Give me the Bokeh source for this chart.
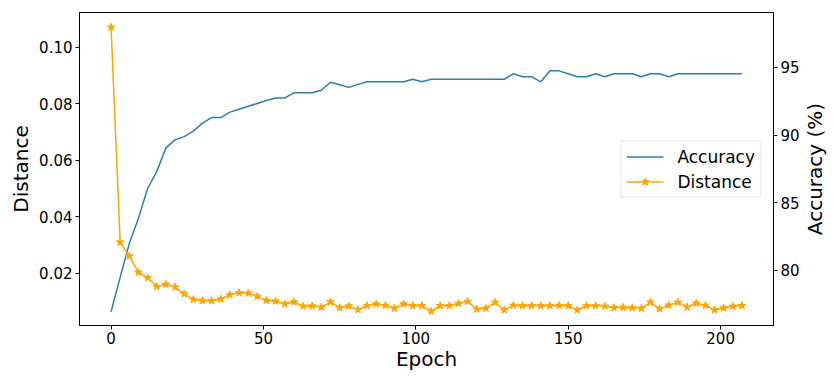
import math
from bokeh.plotting import figure
from bokeh.layouts import row
from bokeh.models import Range1d, LinearAxis, FixedTicker, Legend, LegendItem, NumeralTickFormatter
from bokeh.embed import file_html
from bokeh.resources import INLINE

epochs = list(range(0, 208, 3))

accuracy = [
    76.95, 79.5, 82.0, 83.86, 86.05, 87.3, 89.05, 89.64, 89.88, 90.29,
    90.88, 91.29, 91.29, 91.69, 91.9, 92.12, 92.33, 92.55, 92.74, 92.74,
    93.12, 93.12, 93.12, 93.31, 93.9, 93.71, 93.52, 93.74, 93.93, 93.93,
    93.93, 93.93, 93.93, 94.12, 93.93, 94.12, 94.12, 94.12, 94.12, 94.12,
    94.12, 94.12, 94.12, 94.12, 94.52, 94.31, 94.31, 93.93, 94.74, 94.74,
    94.52, 94.31, 94.31, 94.52, 94.31, 94.52, 94.52, 94.52, 94.31, 94.52,
    94.52, 94.31, 94.52, 94.52, 94.52, 94.52, 94.52, 94.52, 94.52, 94.52,
]

distance = [
    0.1072, 0.0310, 0.0261, 0.0203, 0.0184, 0.0153, 0.0161, 0.0151, 0.0127, 0.0107,
    0.0103, 0.0102, 0.0108, 0.0124, 0.0131, 0.0129, 0.0118, 0.0104, 0.0101, 0.0091,
    0.0098, 0.0083, 0.0084, 0.0080, 0.0098, 0.0078, 0.0084, 0.0071, 0.0085, 0.0091,
    0.0086, 0.0076, 0.0091, 0.0085, 0.0085, 0.0065, 0.0085, 0.0085, 0.0093, 0.0100,
    0.0073, 0.0076, 0.0097, 0.0070, 0.0086, 0.0085, 0.0085, 0.0085, 0.0085, 0.0086,
    0.0085, 0.0070, 0.0085, 0.0085, 0.0083, 0.0078, 0.0079, 0.0078, 0.0076, 0.0097,
    0.0074, 0.0087, 0.0097, 0.0080, 0.0094, 0.0086, 0.0070, 0.0077, 0.0083, 0.0085,
]

x_ticks = [0, 50, 100, 150, 200]
dist_ticks = [0.02, 0.04, 0.06, 0.08, 0.10]
acc_ticks = [80, 85, 90, 95]

FONT = "DejaVu Sans"
BLUE = "#2e7fa8"
ORANGE = "#ffa500"

X_LO, X_HI = -10.35, 217.35
ACC_LO, ACC_HI = 75.93, 99.05

H = 373
TITLE_W = 24
BOTTOM = 48

p = figure(width=826 - TITLE_W, height=H, output_backend="svg", toolbar_location=None,
           x_range=Range1d(X_LO, X_HI), y_range=Range1d(0.0015, 0.1124),
           min_border_left=79, min_border_top=12, min_border_right=26, min_border_bottom=BOTTOM)
p.extra_y_ranges = {"acc": Range1d(ACC_LO, ACC_HI)}

p.xgrid.visible = False
p.ygrid.visible = False
p.outline_line_color = "black"
p.outline_line_width = 1
p.background_fill_color = "white"
p.border_fill_color = "white"

acc_axis = LinearAxis(y_range_name="acc")
p.add_layout(acc_axis, "right")

l_acc = p.line(epochs, accuracy, y_range_name="acc", line_color=BLUE, line_width=1.5)
l_dist = p.line(epochs, distance, line_color=ORANGE, line_width=1.5)
s_dist = p.scatter(epochs, distance, marker="star", size=8, fill_color=ORANGE, line_color=ORANGE)

p.xaxis.axis_label = "Epoch"
p.yaxis[0].axis_label = "Distance"
p.xaxis.ticker = FixedTicker(ticks=x_ticks)
p.yaxis[0].ticker = FixedTicker(ticks=dist_ticks)
p.yaxis[0].formatter = NumeralTickFormatter(format="0.00")
acc_axis.ticker = FixedTicker(ticks=acc_ticks)

for ax in [p.xaxis[0], p.yaxis[0], acc_axis]:
    ax.axis_label_text_font = FONT
    ax.axis_label_text_font_size = "20px"
    ax.axis_label_text_font_style = "normal"
    ax.axis_label_text_color = "black"
    ax.major_label_text_font = FONT
    ax.major_label_text_font_size = "15px"
    ax.major_label_text_color = "black"
    ax.axis_line_color = "black"
    ax.major_tick_line_color = "black"
    ax.major_tick_in = 0
    ax.major_tick_out = 4
    ax.minor_tick_line_color = None
    ax.major_label_standoff = 3
    ax.axis_label_standoff = 3

p.xaxis.axis_label_standoff = 0
p.xaxis.major_label_standoff = 2

legend = Legend(items=[
    LegendItem(label="Accuracy", renderers=[l_acc]),
    LegendItem(label="Distance", renderers=[l_dist, s_dist]),
], location="center_right")
legend.label_text_font = FONT
legend.label_text_font_size = "17px"
legend.label_text_color = "black"
legend.glyph_width = 37
legend.glyph_height = 20
legend.label_height = 20
legend.label_standoff = 14
legend.padding = 5
legend.spacing = 5
legend.margin = 12
legend.border_line_color = "#cccccc"
legend.border_line_width = 1
legend.background_fill_alpha = 0.8
p.add_layout(legend)

# narrow strip holding the right-hand title, which reads bottom to top
q = figure(width=TITLE_W, height=H, output_backend="svg", toolbar_location=None,
           x_range=Range1d(0, 1), y_range=Range1d(ACC_LO, ACC_HI),
           min_border_left=0, min_border_right=0, min_border_top=12, min_border_bottom=BOTTOM)
q.xaxis.visible = False
q.xgrid.visible = False
q.ygrid.visible = False
q.outline_line_color = None
q.background_fill_color = "white"
q.border_fill_color = "white"
q.yaxis.ticker = FixedTicker(ticks=[])
q.yaxis.axis_line_color = None
q.yaxis.major_tick_line_color = None
q.yaxis.minor_tick_line_color = None
q.yaxis.major_label_text_font_size = "0px"
q.yaxis.major_label_standoff = 0
q.yaxis.axis_label = "Accuracy (%)"
q.yaxis.axis_label_standoff = 0
q.yaxis.axis_label_text_font = FONT
q.yaxis.axis_label_text_font_size = "20px"
q.yaxis.axis_label_text_font_style = "normal"
q.yaxis.axis_label_text_color = "black"

layout = row(p, q, spacing=0)

open("out.html", "w").write(file_html(layout, INLINE))
